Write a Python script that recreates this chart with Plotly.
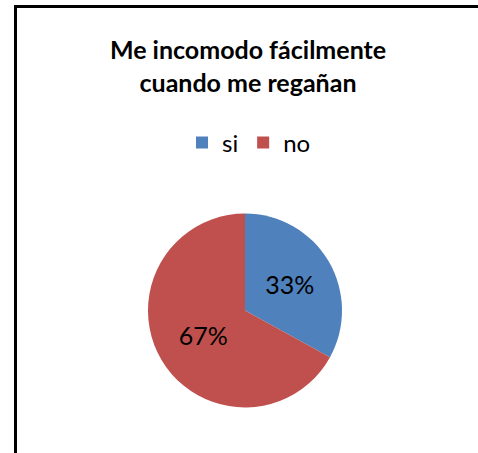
import plotly.graph_objects as go

W, H = 478, 453

categories = ["si", "no"]
values = [33, 67]
colors = ["#4F81BD", "#C0504D"]
title_lines = ["Me incomodo fácilmente", "cuando me regañan"]

FONT = "Lato"

# pie geometry (pixels)
cx, cy_top, r = 245, 310.5, 97
cy = H - cy_top

fig = go.Figure()
fig.add_trace(go.Pie(
    labels=categories,
    values=values,
    marker=dict(colors=colors, line=dict(width=0)),
    sort=False,
    direction="clockwise",
    rotation=0,
    textinfo="percent",
    texttemplate="%{percent:.0%}",
    textposition="inside",
    insidetextorientation="horizontal",
    textfont=dict(family=FONT, size=25, color="#000000"),
    domain=dict(x=[(cx - r) / W, (cx + r) / W], y=[(cy - r) / H, (cy + r) / H]),
    showlegend=True,
    hoverinfo="label+percent",
))

fig.update_layout(
    width=W, height=H,
    margin=dict(l=0, r=0, t=0, b=0),
    paper_bgcolor="white",
    plot_bgcolor="white",
    title=dict(
        text="<b>" + "<br>".join(title_lines) + "</b>",
        x=248 / W, xanchor="center",
        y=1 - 59 / H, yanchor="middle",
        font=dict(family=FONT, size=25, color="#000000"),
    ),
    legend=dict(
        orientation="h",
        x=249 / W, xanchor="center",
        y=1 - 143 / H, yanchor="middle",
        font=dict(family=FONT, size=24, color="#000000"),
        itemsizing="constant",
        bgcolor="rgba(0,0,0,0)",
    ),
    shapes=[
        dict(type="rect", xref="paper", yref="paper", layer="above",
             x0=14 / W, x1=1.0, y0=1 - 8 / H, y1=1 - 5 / H,
             fillcolor="black", line=dict(width=0)),
        dict(type="rect", xref="paper", yref="paper", layer="above",
             x0=14 / W, x1=17 / W, y0=0, y1=1 - 5 / H,
             fillcolor="black", line=dict(width=0)),
    ],
)

fig.write_html(
    "out.html",
    config={"displayModeBar": False},
    post_script="document.body.style.margin='0';document.body.style.overflow='hidden';",
)
